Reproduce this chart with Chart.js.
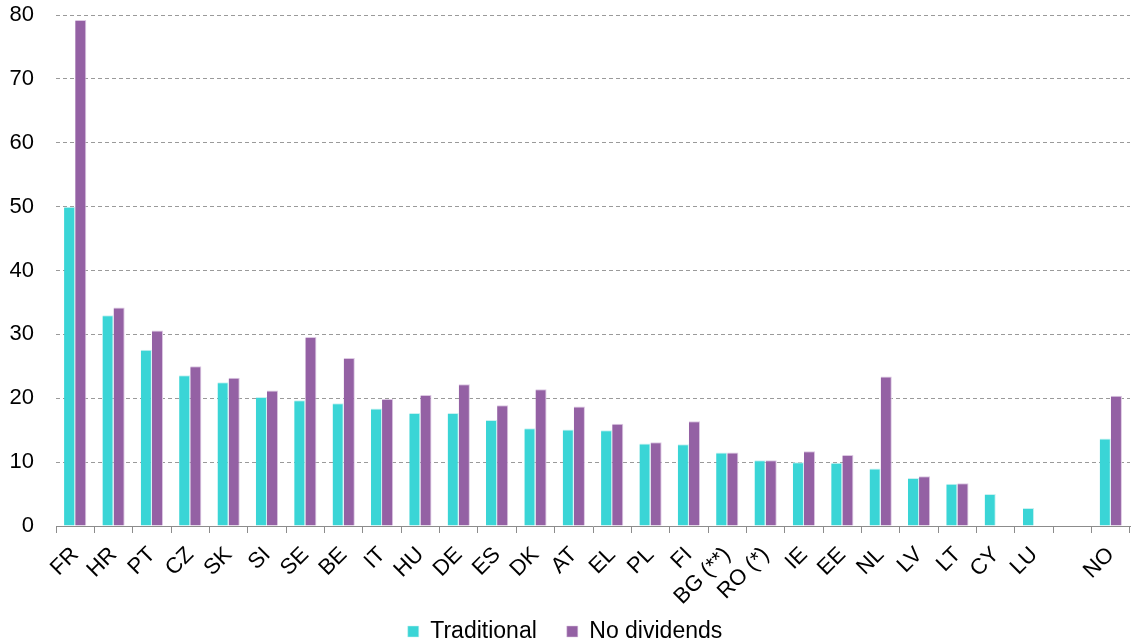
<!DOCTYPE html>
<html>
<head>
<meta charset="utf-8">
<script src="https://cdn.jsdelivr.net/npm/chart.js@4/dist/chart.umd.min.js"></script>
<style>
  html, body { margin: 0; padding: 0; background: #ffffff; }
  #wrap { width: 1132px; height: 643px; }
</style>
</head>
<body>
<div id="wrap"><canvas id="chart" width="1132" height="643"></canvas></div>
<script>
// Countries (an empty slot separates the EU group from NO)
const countries = ['FR', 'HR', 'PT', 'CZ', 'SK', 'SI', 'SE', 'BE', 'IT', 'HU', 'DE', 'ES', 'DK', 'AT',
  'EL', 'PL', 'FI', 'BG (**)', 'RO (*)', 'IE', 'EE', 'NL', 'LV', 'LT', 'CY', 'LU', '', 'NO'];

const traditional = [50.0, 33.0, 27.6, 23.6, 22.5, 20.2, 19.7, 19.2, 18.4, 17.7, 17.7, 16.6, 15.3, 15.1,
  15.0, 12.9, 12.8, 11.5, 10.3, 10.0, 9.9, 9.0, 7.5, 6.6, 5.0, 2.8, null, 13.7];

const noDividends = [79.2, 34.2, 30.6, 25.0, 23.2, 21.2, 29.6, 26.3, 19.9, 20.5, 22.2, 18.9, 21.4, 18.7,
  16.0, 13.1, 16.4, 11.5, 10.3, 11.7, 11.1, 23.4, 7.8, 6.7, null, null, null, 20.4];

const yTicks = [0, 10, 20, 30, 40, 50, 60, 70, 80];

const FONT = "'Liberation Sans', Arial, sans-serif";

// Let the rotated country labels run below the axis box into the legend strip
const unclipLabels = {
  id: 'unclipLabels',
  beforeDraw(chart) {
    chart.scales.x._computeLabelArea = () => undefined;
  }
};

new Chart(document.getElementById('chart'), {
  type: 'bar',
  data: {
    labels: countries,
    datasets: [
      {
        label: 'Traditional',
        data: traditional,
        backgroundColor: '#3AD5D6',
        borderColor: '#c9f1f1',
        borderWidth: { top: 1, left: 0, right: 1, bottom: 0 },
        borderSkipped: 'bottom'
      },
      {
        label: 'No dividends',
        data: noDividends,
        backgroundColor: '#9461A4',
        borderColor: '#dcc8e2',
        borderWidth: { top: 1, left: 0, right: 1, bottom: 0 },
        borderSkipped: 'bottom'
      }
    ]
  },
  options: {
    responsive: false,
    animation: false,
    devicePixelRatio: 1,
    layout: { padding: { top: 15, right: 2, left: 0, bottom: -10 } },
    datasets: {
      bar: { categoryPercentage: 0.58, barPercentage: 1.0 }
    },
    plugins: {
      tooltip: { enabled: false },
      legend: {
        position: 'bottom',
        labels: {
          font: { family: FONT, size: 23 },
          color: '#000000',
          boxWidth: 11,
          boxHeight: 11,
          padding: 30
        }
      }
    },
    scales: {
      x: {
        grid: {
          display: true,
          drawOnChartArea: false,
          offset: true,
          color: '#8c8c8c',
          tickLength: 7,
          lineWidth: 1
        },
        border: { display: true, color: '#8c8c8c', width: 1 },
        ticks: {
          font: { family: FONT, size: 22 },
          color: '#000000',
          minRotation: 45,
          maxRotation: 45,
          autoSkip: false,
          padding: 9
        },
        afterFit: (scale) => {
          scale.height = 64;
          scale.paddingLeft = 0;
          scale.paddingRight = 0;
        }
      },
      y: {
        min: 0,
        max: 80,
        afterBuildTicks: (scale) => { scale.ticks = yTicks.map(v => ({ value: v })); },
        grid: {
          color: '#9a9a9a',
          lineWidth: 1,
          drawTicks: false
        },
        border: { display: false, dash: [4, 3] },
        ticks: {
          font: { family: FONT, size: 22 },
          color: '#000000',
          padding: 22
        },
        afterFit: (scale) => {
          scale.width = 56;
          scale.paddingTop = 0;
          scale.paddingBottom = 0;
        }
      }
    }
  },
  plugins: [unclipLabels]
});
</script>
</body>
</html>
